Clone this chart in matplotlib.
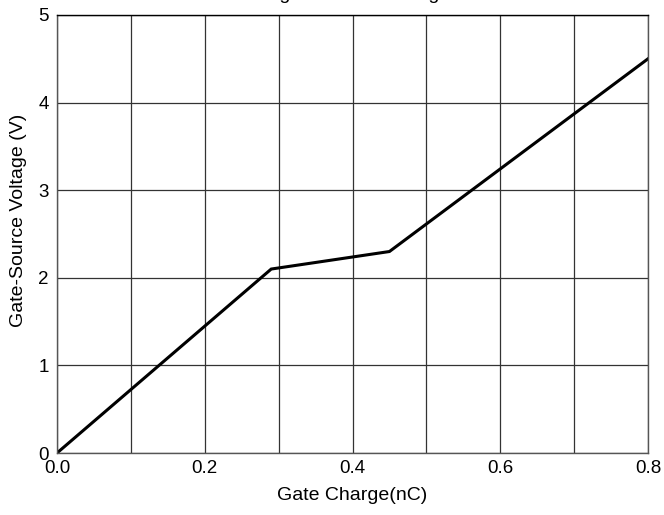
import matplotlib
matplotlib.use('Agg')
import matplotlib.pyplot as plt

plt.rcParams['font.family'] = ['Liberation Sans', 'DejaVu Sans']

# gate charge curve (nC, V)
charge = [0.0, 0.29, 0.45, 0.8]
voltage = [0.0, 2.1, 2.3, 4.5]

x_grid = [0.0, 0.1, 0.2, 0.3, 0.4, 0.5, 0.6, 0.7, 0.8]
x_labels = ['0.0', '', '0.2', '', '0.4', '', '0.6', '', '0.8']
y_ticks = [0, 1, 2, 3, 4, 5]

fig = plt.figure(figsize=(6.64, 5.15), dpi=100)
ax = fig.add_axes([57/664, 1 - 453/515, (648-57)/664, (453-15)/515])

ax.plot(charge, voltage, color='black', lw=2.2, solid_joinstyle='miter')

ax.set_xlim(0, 0.8)
ax.set_ylim(0, 5)
ax.set_xticks(x_grid)
ax.set_xticklabels(x_labels)
ax.set_yticks(y_ticks)
ax.grid(True, color='#333333', lw=0.9)
ax.tick_params(length=0, labelsize=13.5)
ax.tick_params(axis='y', pad=6)
ax.tick_params(axis='x', pad=5)
for s in ax.spines.values():
    s.set_color('#555555')
    s.set_linewidth(1.0)
ax.spines['top'].set_color('black')

ax.set_xlabel('Gate Charge(nC)', fontsize=14, labelpad=7)
ax.set_ylabel('Gate-Source Voltage (V)', fontsize=14)
ax.yaxis.set_label_coords(-0.05, 0.53)

# title mostly clipped off the top of the image
fig.text(320/664, 1 + 1/515, 'Gate Charge vs. Gate Voltage', ha='center',
         va='baseline', fontsize=14)

fig.savefig('out.png', dpi=100)
